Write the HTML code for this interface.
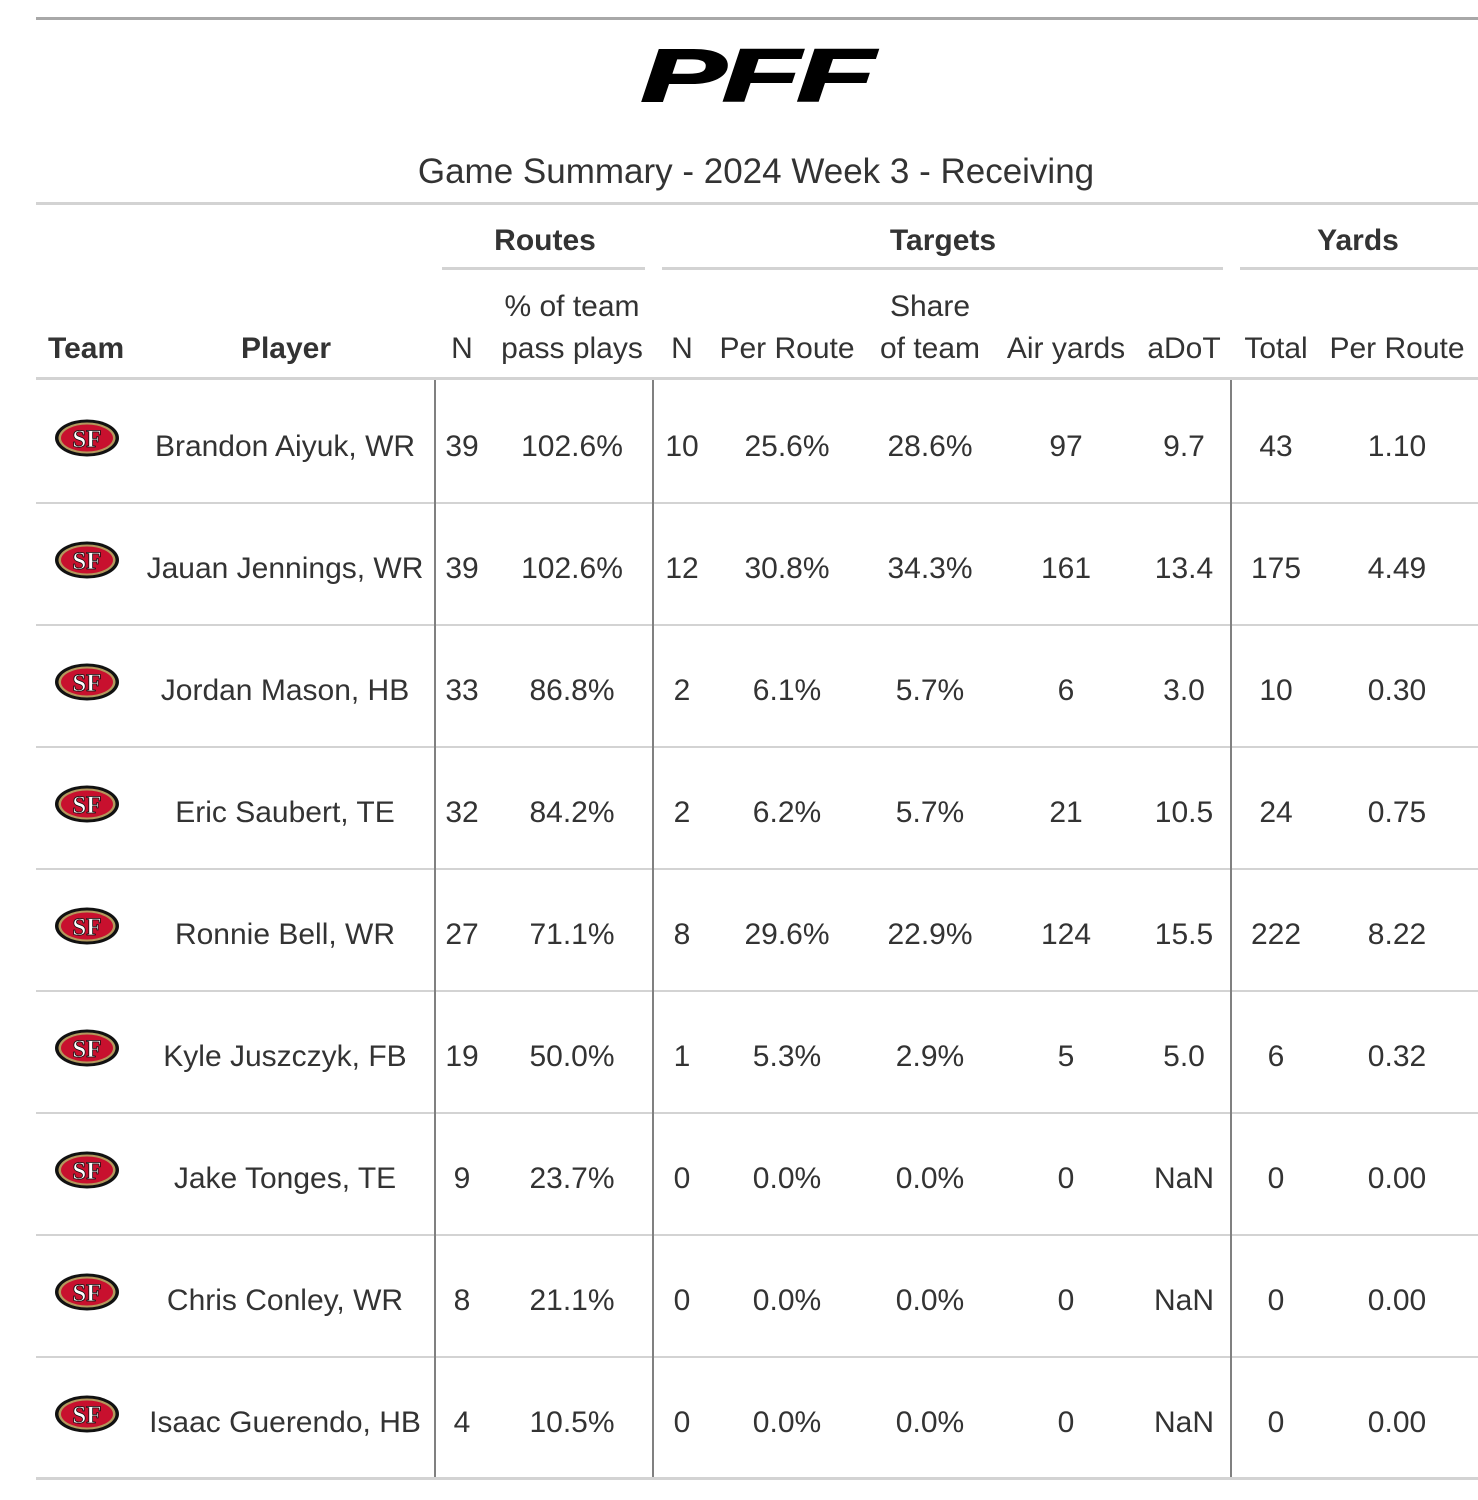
<!DOCTYPE html>
<html><head><meta charset="utf-8"><style>
html,body{margin:0;padding:0;background:#fff;}
svg{display:block;}
text{font-family:"Liberation Sans",sans-serif;fill:#333;}
</style></head><body>
<svg width="1478" height="1500" viewBox="0 0 1478 1500" xmlns="http://www.w3.org/2000/svg">
<defs>
<g id="sf">
<ellipse cx="0" cy="0" rx="32" ry="18.5" fill="#111"/>
<ellipse cx="0" cy="0" rx="28.5" ry="15.5" fill="#b3995d"/>
<ellipse cx="0" cy="0" rx="26" ry="13.5" fill="#c8102e"/>
<text x="0" y="9" text-anchor="middle" style="font-family:'Liberation Serif',serif;font-weight:bold;font-size:25px;fill:#fff;stroke:#111;stroke-width:0.8">SF</text>
</g>
</defs>
<rect x="36" y="17" width="1442" height="3" fill="#a8a8a8"/>
<text x="756" y="101" text-anchor="middle" transform="translate(756,0) scale(1.72,1) translate(-756,0)" style="font-weight:900;font-style:italic;font-size:74px;fill:#000;stroke:#000;stroke-width:2;letter-spacing:-2px">PFF</text>
<text x="756" y="183" text-anchor="middle" style="font-size:35px">Game Summary - 2024 Week 3 - Receiving</text>
<rect x="36" y="202" width="1442" height="3" fill="#d3d3d3"/>
<g style="font-weight:bold;font-size:30px" text-anchor="middle">
<text x="545" y="250">Routes</text>
<text x="943" y="250">Targets</text>
<text x="1358" y="250">Yards</text>
</g>
<rect x="442" y="267" width="203" height="3" fill="#d3d3d3"/>
<rect x="662" y="267" width="561" height="3" fill="#d3d3d3"/>
<rect x="1240" y="267" width="238" height="3" fill="#d3d3d3"/>
<g style="font-size:30px" text-anchor="middle">
<text x="572" y="316">% of team</text>
<text x="930" y="316">Share</text>
<text x="462" y="358">N</text>
<text x="572" y="358">pass plays</text>
<text x="682" y="358">N</text>
<text x="787" y="358">Per Route</text>
<text x="930" y="358">of team</text>
<text x="1066" y="358">Air yards</text>
<text x="1184" y="358">aDoT</text>
<text x="1276" y="358">Total</text>
<text x="1397" y="358">Per Route</text>
</g>
<g style="font-size:30px;font-weight:bold">
<text x="48" y="358">Team</text>
<text x="286" y="358" text-anchor="middle">Player</text>
</g>
<rect x="36" y="377" width="1442" height="3" fill="#d3d3d3"/>
<g fill="#d3d3d3">
<rect x="36" y="502" width="1442" height="2"/>
<rect x="36" y="624" width="1442" height="2"/>
<rect x="36" y="746" width="1442" height="2"/>
<rect x="36" y="868" width="1442" height="2"/>
<rect x="36" y="990" width="1442" height="2"/>
<rect x="36" y="1112" width="1442" height="2"/>
<rect x="36" y="1234" width="1442" height="2"/>
<rect x="36" y="1356" width="1442" height="2"/>
<rect x="36" y="1477" width="1442" height="3"/>
</g>
<g fill="#808080">
<rect x="434" y="380" width="2" height="1097"/>
<rect x="652" y="380" width="2" height="1097"/>
<rect x="1230" y="380" width="2" height="1097"/>
</g>
<g style="font-size:30px" text-anchor="middle">
<use href="#sf" x="87" y="438"/>
<text x="285" y="456">Brandon Aiyuk, WR</text><text x="462" y="456">39</text><text x="572" y="456">102.6%</text><text x="682" y="456">10</text><text x="787" y="456">25.6%</text><text x="930" y="456">28.6%</text><text x="1066" y="456">97</text><text x="1184" y="456">9.7</text><text x="1276" y="456">43</text><text x="1397" y="456">1.10</text>
<use href="#sf" x="87" y="560"/>
<text x="285" y="578">Jauan Jennings, WR</text><text x="462" y="578">39</text><text x="572" y="578">102.6%</text><text x="682" y="578">12</text><text x="787" y="578">30.8%</text><text x="930" y="578">34.3%</text><text x="1066" y="578">161</text><text x="1184" y="578">13.4</text><text x="1276" y="578">175</text><text x="1397" y="578">4.49</text>
<use href="#sf" x="87" y="682"/>
<text x="285" y="700">Jordan Mason, HB</text><text x="462" y="700">33</text><text x="572" y="700">86.8%</text><text x="682" y="700">2</text><text x="787" y="700">6.1%</text><text x="930" y="700">5.7%</text><text x="1066" y="700">6</text><text x="1184" y="700">3.0</text><text x="1276" y="700">10</text><text x="1397" y="700">0.30</text>
<use href="#sf" x="87" y="804"/>
<text x="285" y="822">Eric Saubert, TE</text><text x="462" y="822">32</text><text x="572" y="822">84.2%</text><text x="682" y="822">2</text><text x="787" y="822">6.2%</text><text x="930" y="822">5.7%</text><text x="1066" y="822">21</text><text x="1184" y="822">10.5</text><text x="1276" y="822">24</text><text x="1397" y="822">0.75</text>
<use href="#sf" x="87" y="926"/>
<text x="285" y="944">Ronnie Bell, WR</text><text x="462" y="944">27</text><text x="572" y="944">71.1%</text><text x="682" y="944">8</text><text x="787" y="944">29.6%</text><text x="930" y="944">22.9%</text><text x="1066" y="944">124</text><text x="1184" y="944">15.5</text><text x="1276" y="944">222</text><text x="1397" y="944">8.22</text>
<use href="#sf" x="87" y="1048"/>
<text x="285" y="1066">Kyle Juszczyk, FB</text><text x="462" y="1066">19</text><text x="572" y="1066">50.0%</text><text x="682" y="1066">1</text><text x="787" y="1066">5.3%</text><text x="930" y="1066">2.9%</text><text x="1066" y="1066">5</text><text x="1184" y="1066">5.0</text><text x="1276" y="1066">6</text><text x="1397" y="1066">0.32</text>
<use href="#sf" x="87" y="1170"/>
<text x="285" y="1188">Jake Tonges, TE</text><text x="462" y="1188">9</text><text x="572" y="1188">23.7%</text><text x="682" y="1188">0</text><text x="787" y="1188">0.0%</text><text x="930" y="1188">0.0%</text><text x="1066" y="1188">0</text><text x="1184" y="1188">NaN</text><text x="1276" y="1188">0</text><text x="1397" y="1188">0.00</text>
<use href="#sf" x="87" y="1292"/>
<text x="285" y="1310">Chris Conley, WR</text><text x="462" y="1310">8</text><text x="572" y="1310">21.1%</text><text x="682" y="1310">0</text><text x="787" y="1310">0.0%</text><text x="930" y="1310">0.0%</text><text x="1066" y="1310">0</text><text x="1184" y="1310">NaN</text><text x="1276" y="1310">0</text><text x="1397" y="1310">0.00</text>
<use href="#sf" x="87" y="1414"/>
<text x="285" y="1432">Isaac Guerendo, HB</text><text x="462" y="1432">4</text><text x="572" y="1432">10.5%</text><text x="682" y="1432">0</text><text x="787" y="1432">0.0%</text><text x="930" y="1432">0.0%</text><text x="1066" y="1432">0</text><text x="1184" y="1432">NaN</text><text x="1276" y="1432">0</text><text x="1397" y="1432">0.00</text>
</g>
</svg>
</body></html>
